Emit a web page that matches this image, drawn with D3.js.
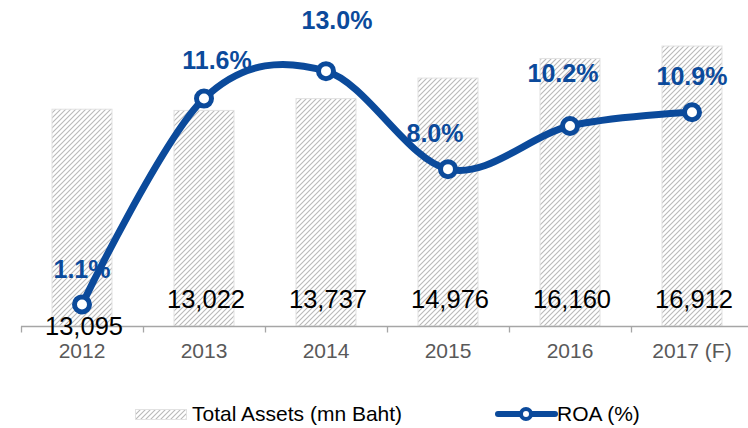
<!DOCTYPE html>
<html>
<head>
<meta charset="utf-8">
<script src="https://cdn.jsdelivr.net/npm/d3@7"></script>
<style>
  html, body { margin: 0; padding: 0; background: #fff; }
  svg { display: block; font-family: "Liberation Sans", Arial, sans-serif; }
</style>
</head>
<body>
<svg id="chart" width="748" height="428"></svg>
<script>
// ---- data ----
const years = ["2012", "2013", "2014", "2015", "2016", "2017 (F)"];
const totalAssets = [13095, 13022, 13737, 14976, 16160, 16912];
const roa = [1.1, 11.6, 13.0, 8.0, 10.2, 10.9];
const seriesNames = ["Total Assets (mn Baht)", "ROA (%)"];

// ---- layout / style ----
const W = 748, H = 428;
const plotLeft = 21, plotRight = 753, plotTop = 28, plotBottom = 326;
const blue = "#0b4a9b";
const hatchColor = "#b9b9b9";
const barBorder = "#e2e2e2";
const axisColor = "#a6a6a6";
// label nudges (layout only)
const roaLabelNudge = [[0, -26], [13, -30], [11, -42], [-13, -27], [-7, -44], [0, -27]];
const valueLabelNudge = [27, 0, 0, 0, 0, 0];

const svg = d3.select("#chart");
const defs = svg.append("defs");
const pat = defs.append("pattern")
  .attr("id", "hatch").attr("patternUnits", "userSpaceOnUse")
  .attr("width", 5).attr("height", 5);
pat.append("rect").attr("width", 5).attr("height", 5).attr("fill", "#fff");
pat.append("path")
  .attr("d", "M-1,1 l2,-2 M0,5 l5,-5 M4,6 l2,-2")
  .attr("stroke", hatchColor).attr("stroke-width", 1.1);

const x = d3.scaleBand().domain(years).range([plotLeft, plotRight])
  .paddingInner(0.5).paddingOuter(0.25);
const y0 = d3.scaleLinear().domain([0, 18000]).range([plotBottom, plotTop]);
const y1 = d3.scaleLinear().domain([0, 15.2]).range([plotBottom, plotTop]);
const cx = d => x(d) + x.bandwidth() / 2;

const data = years.map((yr, i) => ({ yr, assets: totalAssets[i], roa: roa[i], i }));

// bars
svg.append("g").selectAll("rect").data(data).join("rect")
  .attr("x", d => x(d.yr) + 0.5)
  .attr("y", d => y0(d.assets))
  .attr("width", x.bandwidth() - 1)
  .attr("height", d => y0(0) - y0(d.assets))
  .attr("fill", "url(#hatch)")
  .attr("stroke", barBorder).attr("stroke-width", 1);

// x axis
const step = x.step();
const axisG = svg.append("g").attr("transform", `translate(0,${plotBottom + 0.5})`);
axisG.append("line").attr("x1", plotLeft).attr("x2", W).attr("y1", 0).attr("y2", 0)
  .attr("stroke", axisColor).attr("stroke-width", 1.3);
const boundaries = d3.range(years.length + 1).map(i => x(years[0]) - step * 0.25 + i * step);
axisG.selectAll("line.tick").data(boundaries).join("line").attr("class", "tick")
  .attr("x1", d => Math.round(d) + 0.5).attr("x2", d => Math.round(d) + 0.5)
  .attr("y1", 0).attr("y2", 6).attr("stroke", axisColor).attr("stroke-width", 1.3);
const xAxis = d3.axisBottom(x).tickSize(0).tickPadding(17.5);
const labelsG = svg.append("g").attr("transform", `translate(0,${plotBottom})`).call(xAxis);
labelsG.select(".domain").remove();
labelsG.selectAll("text").attr("font-size", 21).attr("fill", "#595959")
  .attr("font-family", "'Liberation Sans', Arial, sans-serif");

// value labels
svg.append("g").selectAll("text").data(data).join("text")
  .attr("x", d => cx(d.yr) + 2)
  .attr("y", d => plotBottom - 18 + valueLabelNudge[d.i])
  .attr("text-anchor", "middle")
  .attr("font-size", 25.5).attr("fill", "#000")
  .text(d => d3.format(",")(d.assets));

// ROA line
const line = d3.line().x(d => cx(d.yr)).y(d => y1(d.roa)).curve(d3.curveCardinal.tension(0));
svg.append("path").datum(data).attr("d", line)
  .attr("fill", "none").attr("stroke", blue).attr("stroke-width", 7)
  .attr("stroke-linejoin", "round").attr("stroke-linecap", "round");
svg.append("g").selectAll("circle").data(data).join("circle")
  .attr("cx", d => cx(d.yr)).attr("cy", d => y1(d.roa)).attr("r", 7.5)
  .attr("fill", "#fff").attr("stroke", blue).attr("stroke-width", 5);

// ROA labels
svg.append("g").selectAll("text").data(data).join("text")
  .attr("x", d => cx(d.yr) + roaLabelNudge[d.i][0])
  .attr("y", d => y1(d.roa) + roaLabelNudge[d.i][1])
  .attr("text-anchor", "middle")
  .attr("font-size", 25).attr("font-weight", "bold").attr("fill", blue)
  .text(d => d.roa.toFixed(1) + "%");

// legend
const lg = svg.append("g");
lg.append("rect").attr("x", 135.5).attr("y", 409.5).attr("width", 51).attr("height", 10)
  .attr("fill", "url(#hatch)").attr("stroke", barBorder);
lg.append("text").attr("x", 192).attr("y", 421).attr("font-size", 21).attr("fill", "#000")
  .text(seriesNames[0]);
lg.append("line").attr("x1", 498).attr("x2", 555).attr("y1", 414).attr("y2", 414)
  .attr("stroke", blue).attr("stroke-width", 6).attr("stroke-linecap", "round");
lg.append("circle").attr("cx", 526).attr("cy", 414).attr("r", 5)
  .attr("fill", "#fff").attr("stroke", blue).attr("stroke-width", 4);
lg.append("text").attr("x", 557).attr("y", 421).attr("font-size", 21).attr("fill", "#000")
  .text(seriesNames[1]);
</script>
</body>
</html>
